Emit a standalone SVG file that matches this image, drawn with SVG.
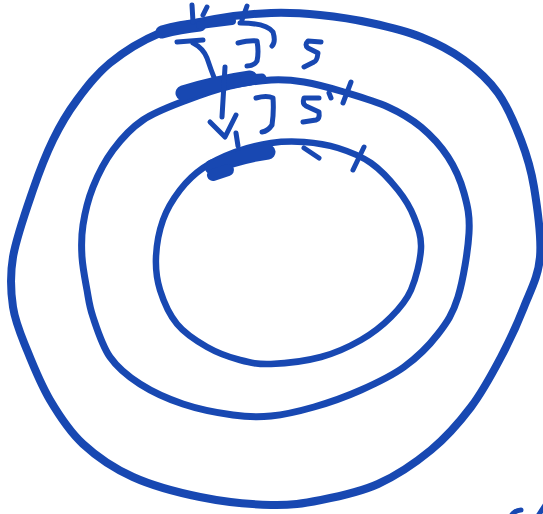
<svg xmlns="http://www.w3.org/2000/svg" width="543" height="514" viewBox="0 0 543 514">
<style>
.ink{fill:none;stroke:#1848b2;stroke-linecap:round;stroke-linejoin:round}
.s{stroke-width:5}
.blob{stroke-width:13}
</style>
<rect width="543" height="514" fill="#fff"/>
<g id="rings">
<path id="outer" class="ink" stroke-width="8" d="M13,257 C16.3,237.5 26.3,209.5 33,190 C39.7,170.5 45.7,155 53,140 C60.3,125 67.5,112.8 77,100 C86.5,87.2 96.2,74.2 110,63 C123.8,51.8 142.5,40.3 160,33 C177.5,25.7 196.5,22.3 215,19 C233.5,15.7 253.5,13.7 271,13 C288.5,12.3 303.3,13.3 320,15 C336.7,16.7 354.2,19.3 371,23 C387.8,26.7 405.5,30.8 421,37 C436.5,43.2 451.2,50.7 464,60 C476.8,69.3 488.5,79.7 498,93 C507.5,106.3 515,124.3 521,140 C527,155.7 530.8,167.5 534,187 C537.2,206.5 541.7,237 540,257 C538.3,277 530.5,290.3 524,307 C517.5,323.7 509.8,340.3 501,357 C492.2,373.7 482.7,391.5 471,407 C459.3,422.5 446.5,437.2 431,450 C415.5,462.8 396.3,475.7 378,484 C359.7,492.3 338.8,496.5 321,500 C303.2,503.5 291.2,505.5 271,505 C250.8,504.5 223,501.7 200,497 C177,492.3 152.5,485.8 133,477 C113.5,468.2 96.8,456.8 83,444 C69.2,431.2 59.3,415.7 50,400 C40.7,384.3 33.2,365.5 27,350 C20.8,334.5 15.3,322.5 13,307 C10.7,291.5 9.7,276.5 13,257 Z"/>
<path id="middle" class="ink" stroke-width="7" d="M82,257 C81.3,246.2 81.2,236.7 83,225 C84.8,213.3 88,199.5 93,187 C98,174.5 104.7,161.2 113,150 C121.3,138.8 130.7,128.3 143,120 C155.3,111.7 172.5,105.7 187,100 C201.5,94.3 216,89.3 230,86 C244,82.7 258.7,80.7 271,80 C283.3,79.3 291.8,80 304,82 C316.2,84 330,87.8 344,92 C358,96.2 375.2,101.2 388,107 C400.8,112.8 411,118.7 421,127 C431,135.3 440.8,146 448,157 C455.2,168 460.5,180.3 464,193 C467.5,205.7 470,215.7 469,233 C468,250.3 463.2,280.2 458,297 C452.8,313.8 447,322.3 438,334 C429,345.7 416.8,357.7 404,367 C391.2,376.3 376,383.3 361,390 C346,396.7 329,402.7 314,407 C299,411.3 284.5,414.7 271,416 C257.5,417.3 247.7,417 233,415 C218.3,413 198.5,409.2 183,404 C167.5,398.8 152.2,391.8 140,384 C127.8,376.2 117.8,368.2 110,357 C102.2,345.8 96.8,328.2 93,317 C89.2,305.8 88.8,300 87,290 C85.2,280 82.7,267.8 82,257 Z"/>
<path id="inner" class="ink" stroke-width="6.5" d="M156,257 C156.5,245.3 159,231.2 163,220 C167,208.8 173.3,198.7 180,190 C186.7,181.3 193.8,174.3 203,168 C212.2,161.7 223.7,156.2 235,152 C246.3,147.8 259.5,144.7 271,143 C282.5,141.3 292.8,141.2 304,142 C315.2,142.8 326.8,144.5 338,148 C349.2,151.5 361,156 371,163 C381,170 390.8,181 398,190 C405.2,199 410.2,207.3 414,217 C417.8,226.7 421.5,235.8 421,248 C420.5,260.2 416,278.5 411,290 C406,301.5 399.3,308.7 391,317 C382.7,325.3 372.7,333.3 361,340 C349.3,346.7 336,353 321,357 C306,361 284.5,363.5 271,364 C257.5,364.5 250.7,362.8 240,360 C229.3,357.2 217.5,353 207,347 C196.5,341 184.8,333.5 177,324 C169.2,314.5 163.5,301.2 160,290 C156.5,278.8 155.5,268.7 156,257 Z"/>
</g>
<g id="marks">
<path class="ink blob" d="M162 32 Q180 27 200 25"/>
<path class="ink" stroke-width="8" d="M200 25 L232 21"/>
<path class="ink s" d="M192 5 L193 22 M207 7 L203 15 M247 6 L242 20"/>
<path class="ink s" d="M240 23 Q266 23 273 32 Q276 42 272 46"/>
<path class="ink s" d="M177 42 L203 40"/>
<path class="ink s" d="M193 43 Q203 48 207 58 Q211 70 215 80"/>
<path class="ink s" d="M238 43 Q250 40 257 41 Q259 52 257 61 Q254 66 247 66"/>
<path class="ink s" d="M321 42 L308 41 Q304 45 308 48 L318 53 Q317 61 314 62 L304 67"/>
<path class="ink" stroke-width="15" d="M183 93 Q215 83 250 78"/>
<path class="ink" stroke-width="9" d="M245 79 L262 78"/>
<path class="ink s" d="M225 67 L222 117"/>
<path class="ink s" d="M210 122 L225 137 L236 115 M236 133 L238 146"/>
<path class="ink s" d="M256 98 Q267 95 273 98 Q274 112 272 125 Q268 131 262 132"/>
<path class="ink s" d="M319 98 L304 98 Q302 104 306 106 L319 112 Q320 119 316 120 L303 122"/>
<path class="ink s" d="M351 82 L343 103 M329 93 L331 98"/>
<path class="ink" stroke-width="15" d="M212 167 Q240 156 268 152"/>
<path class="ink" stroke-width="12" d="M213 175 L228 170"/>
<path class="ink s" d="M304 148 L319 158 M364 147 L353 170"/>
<path class="ink s" d="M511 516 Q515 510 521 510 M538 516 L545 505"/>
</g>
</svg>
